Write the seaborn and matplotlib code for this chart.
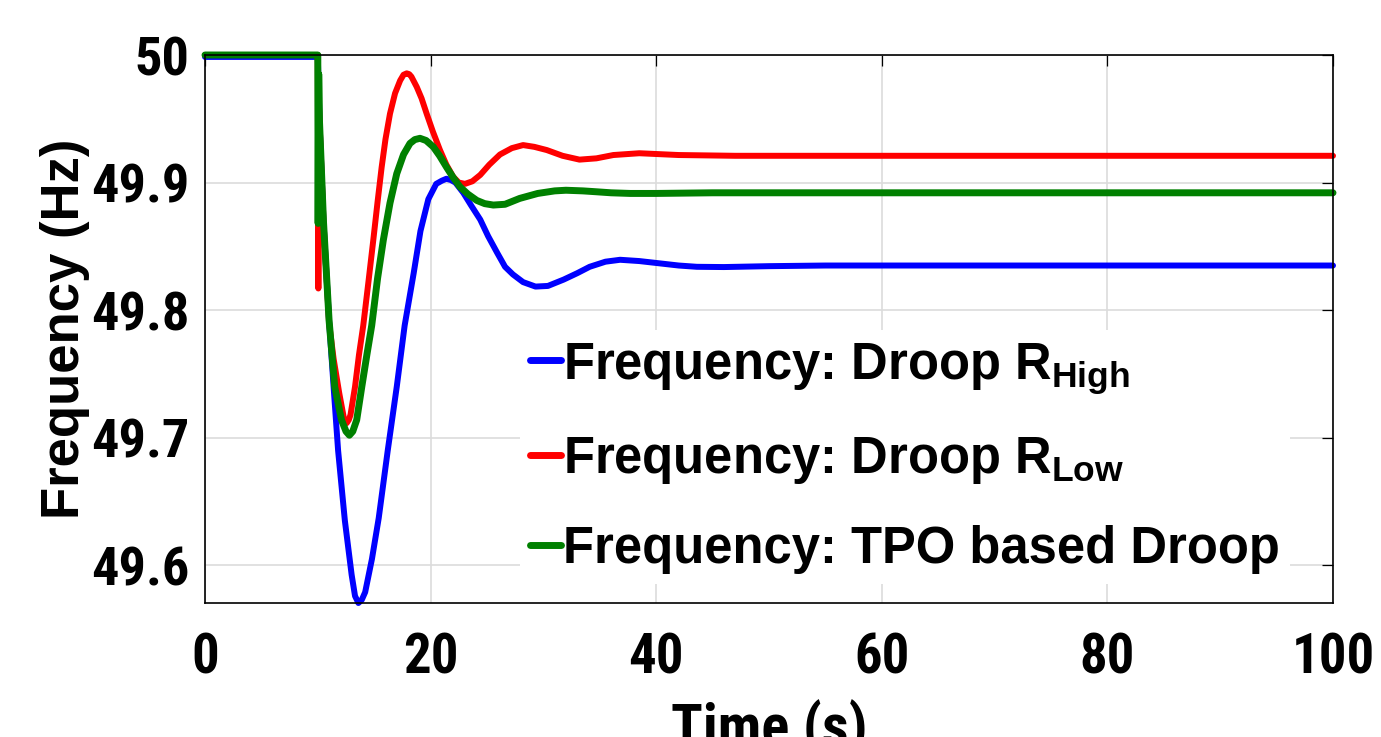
import os
import matplotlib
matplotlib.use("Agg")
import matplotlib.pyplot as plt
import matplotlib.font_manager as fm
from matplotlib.font_manager import FontProperties
from matplotlib.textpath import TextPath
import seaborn as sns

# ---------------- data ----------------
t_high = [0, 10.0, 10.15, 10.5, 11.0, 11.4, 11.8, 12.4, 13.0, 13.3, 13.6, 13.9, 14.2,
          14.8, 15.4, 16.2, 17.0, 17.7, 18.5, 19.1, 19.8, 20.5, 21.0, 21.4, 21.8, 22.2,
          22.9, 23.6, 24.4, 25.1, 25.9, 26.6, 27.3, 28.2, 29.3, 30.4, 31.8, 33.0, 34.1,
          35.5, 36.8, 38.5, 40.0, 42.0, 43.6, 46.0, 50.0, 55.0, 100]
f_high = [49.9985, 49.9985, 49.948, 49.870, 49.792, 49.740, 49.690, 49.635, 49.5926,
          49.576, 49.5705, 49.573, 49.579, 49.605, 49.637, 49.690, 49.740, 49.788,
          49.829, 49.862, 49.887, 49.899, 49.9015, 49.903, 49.902, 49.900, 49.892,
          49.882, 49.871, 49.858, 49.845, 49.834, 49.828, 49.822, 49.8185, 49.819,
          49.824, 49.829, 49.834, 49.838, 49.8395, 49.8385, 49.837, 49.835, 49.834,
          49.8338, 49.8345, 49.835, 49.835]

t_low = [0, 10.0, 10.05, 10.1, 10.5, 11.0, 11.4, 11.9, 12.3, 12.4, 12.56, 12.75, 12.9,
         13.3, 13.65, 14.03, 14.5, 14.92, 15.3, 15.66, 16.0, 16.4, 16.85, 17.3, 17.6,
         17.88, 18.1, 18.3, 18.77, 19.2, 19.65, 20.2, 20.83, 21.4, 22.0, 22.5, 23.05,
         23.7, 24.4, 25.2, 26.15, 27.2, 28.2, 29.2, 30.3, 31.7, 33.2, 34.7, 36.2, 38.5,
         42.0, 47.0, 100]
f_low = [50.0, 50.0, 49.817, 49.960, 49.870, 49.790, 49.762, 49.735, 49.716, 49.713,
         49.7115, 49.714, 49.718, 49.740, 49.765, 49.788, 49.823, 49.855, 49.885,
         49.912, 49.934, 49.954, 49.970, 49.980, 49.9845, 49.9856, 49.985, 49.983,
         49.975, 49.966, 49.954, 49.940, 49.9255, 49.914, 49.9046, 49.900, 49.899,
         49.901, 49.906, 49.914, 49.922, 49.927, 49.9294, 49.928, 49.9255, 49.921,
         49.918, 49.919, 49.9216, 49.923, 49.9216, 49.921, 49.921]

t_tpo = [0, 10.0, 10.03, 10.08, 10.15, 10.5, 11.0, 11.5, 12.1, 12.5, 12.8, 13.1, 13.45,
         13.9, 14.35, 14.78, 15.3, 15.81, 16.4, 17.0, 17.6, 18.17, 18.6, 19.06, 19.6,
         20.24, 20.8, 21.42, 22.0, 22.6, 23.3, 24.1, 24.8, 25.56, 26.6, 27.9, 29.5,
         31.0, 32.0, 33.5, 34.7, 36.0, 37.7, 40.0, 45.0, 100]
f_tpo = [50.0, 50.0, 49.868, 49.985, 49.948, 49.870, 49.792, 49.740, 49.714, 49.705,
         49.702, 49.705, 49.714, 49.740, 49.765, 49.788, 49.825, 49.855, 49.884, 49.907,
         49.922, 49.9307, 49.9337, 49.9347, 49.933, 49.928, 49.921, 49.912, 49.904,
         49.8967, 49.891, 49.886, 49.8835, 49.8824, 49.883, 49.8876, 49.8915, 49.8935,
         49.894, 49.8935, 49.8928, 49.892, 49.8915, 49.8915, 49.892, 49.892]

series_labels = [r"Frequency: Droop R$_{\mathbf{High}}$",
                 r"Frequency: Droop R$_{\mathbf{Low}}$",
                 "Frequency: TPO based Droop"]
x_ticks = [0, 20, 40, 60, 80, 100]
x_tick_labels = ["0", "20", "40", "60", "80", "100"]
y_ticks = [49.6, 49.7, 49.8, 49.9, 50.0]
y_tick_labels = ["49.6", "49.7", "49.8", "49.9", "50"]

# ---------------- style ----------------
sns.set_style("white")
plt.rcParams["font.family"] = ["Liberation Sans", "DejaVu Sans"]
plt.rcParams["font.weight"] = "bold"
plt.rcParams["text.color"] = "black"
plt.rcParams["axes.labelcolor"] = "black"
plt.rcParams["xtick.color"] = "black"
plt.rcParams["ytick.color"] = "black"
plt.rcParams["legend.labelcolor"] = "black"
plt.rcParams["mathtext.fontset"] = "custom"
plt.rcParams["mathtext.bf"] = "Liberation Sans:bold"
plt.rcParams["mathtext.rm"] = "Liberation Sans:bold"
plt.rcParams["mathtext.it"] = "Liberation Sans:bold"


def find_condensed_bold():
    files = {}
    for f in fm.fontManager.ttflist:
        files[os.path.basename(f.fname).lower()] = f.fname
    prefs = ["liberationsansnarrow-bold.ttf", "robotocondensed-bold.ttf",
             "roboto_condensed-bold.ttf", "notosans-condensedbold.ttf",
             "opensans-condbold.ttf", "opensans-condensedbold.ttf",
             "opensans_condensed-bold.ttf", "dejavusanscondensed-bold.ttf"]
    for p in prefs:
        if p in files:
            return files[p]
    for base, path in files.items():
        b = base.replace("_", "").replace("-", "")
        if ("condensed" in b or "narrow" in b) and b.endswith("bold.ttf") \
                and not any(k in b for k in ("semi", "extra", "italic", "oblique", "ultra")):
            return path
    return None


cond_path = find_condensed_bold()


def make_fp(path):
    if path:
        return FontProperties(fname=path)
    return FontProperties(family="Liberation Sans", weight="bold")


def fit_size(text, fp, target_w, target_h):
    tp = TextPath((0, 0), text, size=1, prop=fp)
    bb = tp.get_extents()
    px = min(target_w / bb.width, target_h / bb.height)
    return px * 72.0 / 100.0


fp_ytick = make_fp(cond_path)
fp_ytick.set_size(fit_size("49.9", fp_ytick, 94, 48))
fp_xtick = make_fp(cond_path)
fp_xtick.set_size(fit_size("100", fp_xtick, 77, 40))
fp_xlabel = make_fp(cond_path)
fp_xlabel.set_size(min(fit_size("Time (s)", fp_xlabel, 192, 999),
                       fp_xtick.get_size() * 1.2))

fig = plt.figure(figsize=(13.81, 7.37), dpi=100)
ax = fig.add_axes([205 / 1381, (737 - 603) / 737, 1128 / 1381, 548 / 737])

for t, f, c, lw, lab in [(t_high, f_high, "#0000ff", 4.3, series_labels[0]),
                          (t_low, f_low, "#ff0000", 4.3, series_labels[1]),
                          (t_tpo, f_tpo, "#008000", 5.0, series_labels[2])]:
    sns.lineplot(x=t, y=f, ax=ax, color=c, linewidth=lw, label=lab,
                 sort=False, estimator=None, clip_on=False)

ax.set_xlim(0, 100)
ax.set_ylim(49.5705, 50.0)
ax.set_xticks(x_ticks)
ax.set_xticklabels(x_tick_labels, fontproperties=fp_xtick, color="black")
ax.set_yticks(y_ticks)
ax.set_yticklabels(y_tick_labels, fontproperties=fp_ytick, color="black")
ax.grid(True, color="#dcdcdc", linewidth=1.2)
ax.set_axisbelow(True)
ax.tick_params(axis="both", direction="in", length=8, width=0.9, top=True, right=True,
               colors="black")
ax.tick_params(axis="x", pad=21)
ax.tick_params(axis="y", pad=11)
for sp in ax.spines.values():
    sp.set_visible(True)
    sp.set_color("black")
    sp.set_linewidth(1.2)

ax.set_xlabel("Time (s)", fontproperties=fp_xlabel, va="top", color="black")
ax.xaxis.set_label_coords(0.5, -(700 - 603) / 548)
ax.set_ylabel("Frequency (Hz)", fontsize=38, fontweight="bold", va="center",
              color="black")
ax.yaxis.set_label_coords(-0.124, 0.5)

leg = ax.legend(loc="upper left", bbox_to_anchor=((520 - 205) / 1128, (603 - 330) / 548),
                prop={"family": "Liberation Sans", "weight": "bold", "size": 36.5},
                frameon=True, facecolor="white", edgecolor="none", framealpha=1,
                fancybox=False, borderpad=0.2, handlelength=0.6, handletextpad=0.05,
                labelspacing=0.77, borderaxespad=0, labelcolor="black")
for ln in leg.get_lines():
    ln.set_linewidth(5)
for txt in leg.get_texts():
    txt.set_color("black")

fig.savefig("out.png", dpi=100)
